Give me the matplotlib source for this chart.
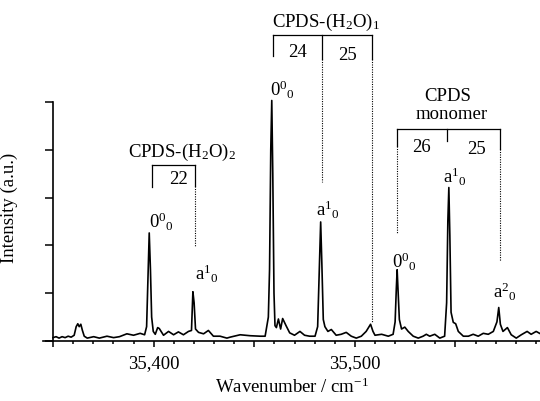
import matplotlib
matplotlib.use("Agg")
import matplotlib.pyplot as plt
from matplotlib.ticker import MultipleLocator, FuncFormatter

plt.rcParams["font.family"] = "Liberation Serif"
plt.rcParams["mathtext.fontset"] = "custom"
plt.rcParams["mathtext.rm"] = "Liberation Serif"
plt.rcParams["mathtext.it"] = "Liberation Serif:italic"
plt.rcParams["font.size"] = 13.5

# spectrum (wavenumber / cm-1, intensity a.u.)
wavenumber = [
    35350.0, 35351.5, 35353.0, 35354.5, 35356.0, 35357.5, 35359.0, 35360.5,
    35361.5, 35362.3, 35363.0, 35363.8, 35364.6, 35365.5, 35367.0, 35370.2,
    35373.0, 35376.8, 35380.1, 35383.0, 35386.7, 35390.0, 35393.3, 35395.5,
    35396.5, 35397.2, 35397.8, 35398.4, 35399.0, 35399.8, 35400.8, 35402.0,
    35402.8, 35404.9, 35407.4, 35409.9, 35412.3, 35414.8, 35417.3, 35418.8,
    35419.5, 35420.1, 35420.8, 35422.3, 35424.8, 35427.2, 35429.7, 35433.0,
    35436.4, 35438.0, 35443.0, 35448.0, 35453.0, 35455.4, 35457.0, 35457.6,
    35458.2, 35458.7, 35459.2, 35459.8, 35460.3, 35461.0, 35462.0, 35463.1,
    35464.1, 35465.8, 35467.6, 35470.0, 35472.7, 35475.0, 35477.5, 35480.2,
    35481.5, 35482.3, 35483.0, 35483.6, 35484.3, 35485.1, 35486.6, 35488.3,
    35490.7, 35493.2, 35495.7, 35498.2, 35500.7, 35503.2, 35505.6, 35507.8,
    35509.0, 35510.0, 35513.3, 35516.6, 35519.0, 35520.0, 35520.6, 35521.0,
    35521.5, 35522.1, 35523.2, 35524.8, 35526.5, 35529.0, 35531.5, 35533.9,
    35535.5, 35537.2, 35539.7, 35542.2, 35544.6, 35545.6, 35546.2, 35546.7,
    35547.2, 35547.8, 35548.9, 35550.1, 35551.4, 35553.9, 35556.4, 35558.8,
    35561.3, 35563.8, 35566.3, 35568.8, 35570.6, 35571.5, 35572.3, 35573.6,
    35575.8, 35577.7, 35580.2, 35582.7, 35585.6, 35587.6, 35590.1, 35591.8,
]
intensity = [
    0.07, 0.09, 0.06, 0.09, 0.07, 0.10, 0.08, 0.12,
    0.30, 0.36, 0.30, 0.35, 0.22, 0.10, 0.06, 0.09,
    0.06, 0.10, 0.07, 0.09, 0.15, 0.12, 0.16, 0.13,
    0.30, 1.40, 2.26, 1.50, 0.50, 0.20, 0.14, 0.28,
    0.26, 0.12, 0.20, 0.13, 0.19, 0.13, 0.20, 0.22,
    1.03, 0.80, 0.25, 0.18, 0.15, 0.22, 0.10, 0.10,
    0.06, 0.08, 0.13, 0.11, 0.10, 0.10, 0.50, 1.50,
    4.00, 5.03, 3.50, 1.00, 0.32, 0.28, 0.46, 0.25,
    0.47, 0.32, 0.17, 0.12, 0.20, 0.12, 0.10, 0.10,
    0.30, 1.50, 2.49, 1.60, 0.45, 0.30, 0.20, 0.24,
    0.12, 0.14, 0.18, 0.10, 0.06, 0.10, 0.20, 0.35,
    0.20, 0.12, 0.14, 0.10, 0.14, 0.40, 1.10, 1.49,
    1.00, 0.45, 0.25, 0.29, 0.20, 0.10, 0.06, 0.10,
    0.14, 0.10, 0.14, 0.06, 0.10, 0.80, 2.50, 3.21,
    2.20, 0.60, 0.39, 0.36, 0.20, 0.10, 0.10, 0.14,
    0.10, 0.16, 0.14, 0.20, 0.40, 0.70, 0.35, 0.20,
    0.28, 0.13, 0.06, 0.13, 0.20, 0.14, 0.20, 0.16,
]

fig = plt.figure(figsize=(5.4, 4.02), dpi=100)
ax = fig.add_axes([0.0796, 0.1493, 0.9204, 0.6184])

ax.plot(wavenumber, intensity, color="black", lw=1.2)

ax.set_xlim(35345, 35592)
ax.set_ylim(0, 5.2)

for s in ["top", "right"]:
    ax.spines[s].set_visible(False)
ax.spines["left"].set_position(("data", 35350))
ax.spines["left"].set_bounds(0, 5)
ax.spines["left"].set_linewidth(1.2)
ax.spines["bottom"].set_linewidth(1.2)

ax.xaxis.set_major_locator(MultipleLocator(50))
ax.xaxis.set_minor_locator(MultipleLocator(10))
ax.xaxis.set_major_formatter(FuncFormatter(
    lambda v, p: f"{int(round(v)):,}" if int(round(v)) in (35400, 35500) else ""))
ax.yaxis.set_major_locator(MultipleLocator(1))
ax.set_yticklabels([])
ax.tick_params(axis="x", which="major", direction="out", length=4.5, width=1.1, pad=5)
ax.tick_params(axis="x", which="minor", direction="out", length=2.5, width=1.1)
ax.tick_params(axis="y", which="major", direction="out", length=5.8, width=1.1)

ax.set_xlabel("Wavenumber / cm$^{-1}$", labelpad=4)
ax.set_ylabel("Intensity (a.u.)")
ax.yaxis.set_label_coords(-0.05, 0.539)

# brackets
def solid(x, y0, y1):
    ax.plot([x, x], [y0, y1], color="black", lw=0.9, clip_on=False)

def dotted(x, y0, y1):
    ax.plot([x, x], [y0, y1], color="black", lw=0.8, ls=(0, (1, 1.2)), clip_on=False)

def top(x0, x1, y):
    ax.plot([x0, x1], [y, y], color="black", lw=0.9, clip_on=False)

# CPDS-(H2O)2
top(35399.3, 35420.6, 3.68)
solid(35399.3, 3.68, 3.22)
solid(35420.6, 3.68, 3.24)
dotted(35420.6, 3.24, 1.99)
ax.text(35414.2, 3.97, "CPDS-(H$_2$O)$_2$", ha="center", va="center")
ax.text(35412.2, 3.39, "22", ha="center", va="center")

# CPDS-(H2O)1
top(35459.5, 35508.3, 6.40)
solid(35459.5, 6.40, 5.96)
solid(35483.5, 6.40, 5.90)
dotted(35483.5, 5.90, 3.33)
solid(35508.3, 6.40, 5.90)
dotted(35508.3, 5.90, 0.40)
ax.text(35485.6, 6.69, "CPDS-(H$_2$O)$_1$", ha="center", va="center")
ax.text(35471.7, 6.05, "24", ha="center", va="center")
ax.text(35496.5, 6.00, "25", ha="center", va="center")

# CPDS monomer
top(35520.7, 35572.3, 4.44)
solid(35520.7, 4.44, 4.08)
dotted(35520.7, 4.08, 2.24)
solid(35546.0, 4.44, 4.18)
solid(35572.3, 4.44, 4.02)
dotted(35572.3, 4.02, 1.67)
ax.text(35546.2, 5.13, "CPDS", ha="center", va="center")
ax.text(35548.2, 4.75, "monomer", ha="center", va="center")
ax.text(35533.1, 4.06, "26", ha="center", va="center")
ax.text(35560.4, 4.02, "25", ha="center", va="center")

# peak labels
ax.text(35404.0, 2.52, r"$0^{0}{}_{0}$", ha="center", va="center")
ax.text(35426.4, 1.42, r"$\mathrm{a}^{1}{}_{0}$", ha="center", va="center")
ax.text(35464.0, 5.27, r"$0^{0}{}_{0}$", ha="center", va="center")
ax.text(35486.4, 2.76, r"$\mathrm{a}^{1}{}_{0}$", ha="center", va="center")
ax.text(35524.6, 1.67, r"$0^{0}{}_{0}$", ha="center", va="center")
ax.text(35549.7, 3.45, r"$\mathrm{a}^{1}{}_{0}$", ha="center", va="center")
ax.text(35574.5, 1.05, r"$\mathrm{a}^{2}{}_{0}$", ha="center", va="center")

fig.savefig("out.png", dpi=100)
